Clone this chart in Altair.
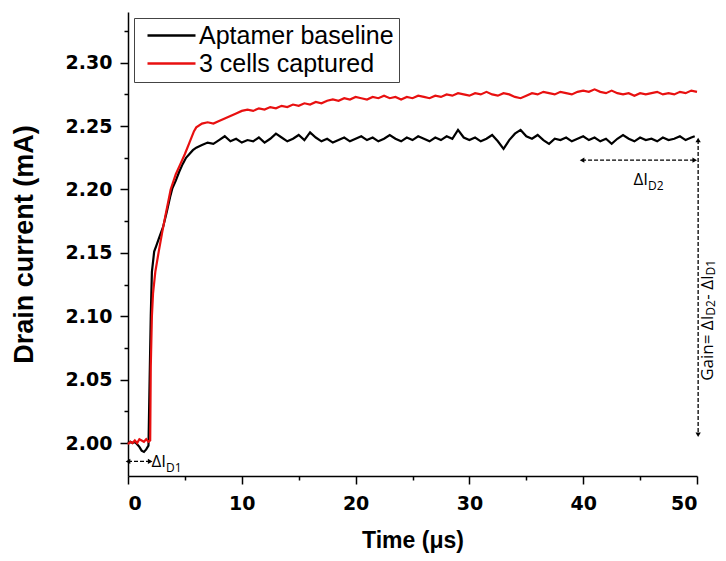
import altair as alt
import pandas as pd

# ---------------- data ----------------
series_names = ["Aptamer baseline", "3 cells captured"]
series_colors = ["#000000", "#e81010"]

# Aptamer baseline (black)
black_t = [0.0, 0.2, 0.4, 0.6, 0.8, 1.0, 1.2, 1.4, 1.6, 1.8, 1.9, 2.0, 2.1, 2.3, 2.5, 2.7, 2.9, 3.1,
           3.4, 3.7, 3.9, 4.2, 4.5, 4.8, 5.1, 5.4, 5.7, 6.0,
           6.5, 7.0, 7.5, 8.0, 8.5, 9.0, 9.5, 10.0, 10.5, 11.0, 11.5, 12.0, 12.5, 13.0, 13.5, 14.0,
           14.5, 15.0, 15.5, 16.0, 16.5, 17.0, 17.5, 18.0, 18.5, 19.0, 19.5, 20.0, 20.5, 21.0, 21.5,
           22.0, 22.5, 23.0, 23.5, 24.0, 24.5, 25.0, 25.5, 26.0, 26.5, 27.0, 27.5, 28.0, 28.5, 29.0,
           29.5, 30.0, 30.5, 31.0, 31.5, 32.0, 32.5, 33.0, 33.5, 34.0, 34.5, 35.0, 35.5, 36.0, 36.5,
           37.0, 37.5, 38.0, 38.5, 39.0, 39.5, 40.0, 40.5, 41.0, 41.5, 42.0, 42.5, 43.0, 43.5, 44.0,
           44.5, 45.0, 45.5, 46.0, 46.5, 47.0, 47.5, 48.0, 48.5, 49.0, 49.5, 49.8]
black_i = [2.000, 2.001, 2.000, 2.001, 1.999, 1.997, 1.994, 1.993, 1.995, 1.998, 2.050, 2.100, 2.135, 2.151,
           2.156, 2.161, 2.166, 2.171, 2.182, 2.194, 2.201, 2.207, 2.214, 2.220, 2.225, 2.228, 2.231, 2.233,
           2.235, 2.237, 2.236, 2.239, 2.242, 2.238, 2.240, 2.237, 2.239, 2.238, 2.241, 2.237, 2.240, 2.244,
           2.241, 2.238, 2.240, 2.243, 2.239, 2.245, 2.241, 2.238, 2.240, 2.237, 2.239, 2.241, 2.238, 2.240,
           2.242, 2.239, 2.241, 2.238, 2.240, 2.243, 2.240, 2.238, 2.241, 2.239, 2.242, 2.240, 2.238, 2.241,
           2.239, 2.242, 2.240, 2.247, 2.241, 2.239, 2.241, 2.238, 2.240, 2.243, 2.238, 2.232, 2.239, 2.244,
           2.247, 2.242, 2.240, 2.243, 2.239, 2.236, 2.240, 2.239, 2.241, 2.238, 2.240, 2.242, 2.239, 2.241,
           2.238, 2.240, 2.236, 2.240, 2.243, 2.240, 2.238, 2.241, 2.239, 2.240, 2.238, 2.241, 2.239, 2.240,
           2.242, 2.239, 2.241, 2.242]

# 3 cells captured (red)
red_t = [0.0, 0.2, 0.4, 0.6, 0.8, 1.0, 1.2, 1.4, 1.6, 1.8, 1.95, 2.0, 2.1, 2.2, 2.4, 2.7, 3.0, 3.3,
         3.75, 4.2, 4.6, 5.0, 5.4, 5.8, 6.0,
         6.5, 7.0, 7.5, 8.0, 8.5, 9.0, 9.5, 10.0, 10.5, 11.0, 11.5, 12.0, 12.5, 13.0, 13.5, 14.0,
         14.5, 15.0, 15.5, 16.0, 16.5, 17.0, 17.5, 18.0, 18.5, 19.0, 19.5, 20.0, 20.5, 21.0, 21.5,
         22.0, 22.5, 23.0, 23.5, 24.0, 24.5, 25.0, 25.5, 26.0, 26.5, 27.0, 27.5, 28.0, 28.5, 29.0,
         29.5, 30.0, 30.5, 31.0, 31.5, 32.0, 32.5, 33.0, 33.5, 34.0, 34.5, 35.0, 35.5, 36.0, 36.5,
         37.0, 37.5, 38.0, 38.5, 39.0, 39.5, 40.0, 40.5, 41.0, 41.5, 42.0, 42.5, 43.0, 43.5, 44.0,
         44.5, 45.0, 45.5, 46.0, 46.5, 47.0, 47.5, 48.0, 48.5, 49.0, 49.5, 50.0]
red_i = [1.999, 2.001, 2.000, 2.002, 2.000, 2.003, 2.002, 2.001, 2.003, 2.001, 2.002, 2.060, 2.100, 2.118,
         2.135, 2.151, 2.166, 2.180, 2.200, 2.212, 2.220, 2.228, 2.237, 2.246, 2.249,
         2.252, 2.253, 2.252, 2.254, 2.256, 2.258, 2.260, 2.262, 2.263, 2.262, 2.264, 2.263, 2.265, 2.264,
         2.266, 2.265, 2.267, 2.266, 2.268, 2.267, 2.269, 2.268, 2.270, 2.271, 2.270, 2.272, 2.271, 2.273,
         2.272, 2.271, 2.273, 2.272, 2.274, 2.272, 2.273, 2.271, 2.273, 2.272, 2.274, 2.273, 2.272, 2.274,
         2.273, 2.275, 2.274, 2.276, 2.275, 2.274, 2.276, 2.275, 2.277, 2.275, 2.274, 2.276, 2.275, 2.273,
         2.272, 2.274, 2.276, 2.275, 2.277, 2.276, 2.275, 2.277, 2.276, 2.275, 2.277, 2.278, 2.277, 2.279,
         2.277, 2.276, 2.278, 2.276, 2.275, 2.276, 2.274, 2.276, 2.275, 2.276, 2.277, 2.275, 2.276, 2.275,
         2.277, 2.276, 2.278, 2.277]

x_ticks = [0, 5, 10, 15, 20, 25, 30, 35, 40, 45, 50]
y_ticks = [2.0, 2.025, 2.05, 2.075, 2.1, 2.125, 2.15, 2.175, 2.2, 2.225, 2.25, 2.275, 2.3, 2.325]
x_domain = [0, 50]
y_domain = [1.974, 2.34]

# annotation arrows (data units)
harrow_x1 = [0.0, 39.9]
harrow_x2 = [1.95, 49.8]
harrow_y = [1.9855, 2.2231]
varrow_x = [50.1]
varrow_y1 = [2.2390]
varrow_y2 = [2.0065]

# annotation labels
hlab_main = ["ΔI", "ΔI"]
hlab_sub = ["D1", "D2"]
hlab_x = [3.35, 45.7]
hlab_main_y = [1.9808, 2.2032]
hlab_sub_y = [1.9772, 2.1998]

# rotated gain label, pieces placed by where each starts (reading bottom to top)
vlab_main = ["Gain= ΔI", "- ΔI"]
vlab_main_y = [2.0491, 2.1131]
vlab_sub = ["D2", "D1"]
vlab_sub_y = [2.1005, 2.1321]
vlab_x = [51.43, 51.43]

# ---------------- build tables ----------------
lines_df = pd.DataFrame({
    "t": black_t + red_t,
    "I": black_i + red_i,
    "series": [series_names[0]] * len(black_t) + [series_names[1]] * len(red_t),
})
harrow_df = pd.DataFrame({"x1": harrow_x1, "x2": harrow_x2, "y": harrow_y})
varrow_df = pd.DataFrame({"x": varrow_x, "y1": varrow_y1, "y2": varrow_y2})
left_heads = pd.DataFrame({"x": harrow_x1, "y": harrow_y})
right_heads = pd.DataFrame({"x": harrow_x2, "y": harrow_y})
up_heads = pd.DataFrame({"x": varrow_x, "y": varrow_y1})
down_heads = pd.DataFrame({"x": varrow_x, "y": varrow_y2})
hmain_df = pd.DataFrame({"x": hlab_x, "y": hlab_main_y, "text": hlab_main})
hsub_df = pd.DataFrame({"x": hlab_x, "y": hlab_sub_y, "text": hlab_sub})
vmain_df = pd.DataFrame({"x": vlab_x, "y": vlab_main_y, "text": vlab_main})
vsub_df = pd.DataFrame({"x": vlab_x, "y": vlab_sub_y, "text": vlab_sub})

TITLE_FONT = "Liberation Sans"
TICK_FONT = "DejaVu Sans"
ANN_FONT = "Open Sans"

xscale = alt.Scale(domain=x_domain, nice=False, zero=False)
yscale = alt.Scale(domain=y_domain, nice=False, zero=False)

X_MAJOR = "datum.value % 10 === 0"
Y_MAJOR = "abs(datum.value*20 - round(datum.value*20)) < 0.001"

x_axis = alt.Axis(
    values=x_ticks,
    labelExpr=X_MAJOR + " ? datum.label : ''",
    tickSize={"condition": {"test": X_MAJOR, "value": 8}, "value": 4},
    labelPadding=10,
    titlePadding=16,
    title="Time (μs)",
    titleFontSize=23,
    grid=False,
)
y_axis = alt.Axis(
    values=y_ticks,
    labelExpr=Y_MAJOR + " ? format(datum.value, '.2f') : ''",
    tickSize={"condition": {"test": Y_MAJOR, "value": 8}, "value": 4},
    labelPadding=8,
    titlePadding=27,
    title="Drain current (mA)",
    titleFontSize=27,
    grid=False,
)


def xq(f):
    return alt.X(f, scale=xscale, axis=x_axis)


def yq(f):
    return alt.Y(f, scale=yscale, axis=y_axis)


lines = alt.Chart(lines_df).mark_line(strokeWidth=2.2, interpolate="linear").encode(
    x=xq("t:Q"),
    y=yq("I:Q"),
    color=alt.Color(
        "series:N",
        scale=alt.Scale(domain=series_names, range=series_colors),
        legend=alt.Legend(
            title=None, orient="top-left", offset=6, padding=5,
            strokeColor="#444444", fillColor="white",
            labelFont=TITLE_FONT, labelFontSize=25, labelColor="black", labelLimit=400,
            symbolType="M-1,0H11", symbolSize=64, symbolStrokeWidth=2.5,
            labelOffset=35, rowPadding=2,
        ),
    ),
    order=alt.Order("t:Q"),
)

hrules = alt.Chart(harrow_df).mark_rule(color="black", strokeWidth=1.3, strokeDash=[4, 2]).encode(
    x=xq("x1:Q"), x2="x2:Q", y=yq("y:Q"))
vrules = alt.Chart(varrow_df).mark_rule(color="black", strokeWidth=1.3, strokeDash=[4, 2]).encode(
    x=xq("x:Q"), y=yq("y1:Q"), y2="y2:Q")


def heads(df, shape):
    return alt.Chart(df).mark_point(shape=shape, filled=True, color="black", size=28, opacity=1).encode(
        x=xq("x:Q"), y=yq("y:Q"))


hmain = alt.Chart(hmain_df).mark_text(font=ANN_FONT, fontSize=17, align="right", baseline="alphabetic",
                                      color="black").encode(x=xq("x:Q"), y=yq("y:Q"), text="text:N")
hsub = alt.Chart(hsub_df).mark_text(font=ANN_FONT, fontSize=12, align="left", baseline="alphabetic",
                                    color="black").encode(x=xq("x:Q"), y=yq("y:Q"), text="text:N")
vmain = alt.Chart(vmain_df).mark_text(font=ANN_FONT, fontSize=17, align="left", baseline="alphabetic",
                                      angle=270, color="black").encode(x=xq("x:Q"), y=yq("y:Q"), text="text:N")
vsub = alt.Chart(vsub_df).mark_text(font=ANN_FONT, fontSize=12, align="left", baseline="alphabetic",
                                    angle=270, dy=1.8, color="black").encode(x=xq("x:Q"), y=yq("y:Q"), text="text:N")

chart = alt.layer(
    lines, hrules, vrules,
    heads(left_heads, "triangle-left"), heads(right_heads, "triangle-right"),
    heads(up_heads, "triangle-up"), heads(down_heads, "triangle-down"),
    hmain, hsub, vmain, vsub,
).properties(
    width=569, height=464,
    autosize=alt.AutoSizeParams(type="none"),
    padding={"left": 120, "top": 4, "right": 21, "bottom": 77},
).configure_view(stroke=None).configure_axis(
    domainColor="black", domainWidth=1.5, tickColor="black", tickWidth=1.5,
    labelFont=TICK_FONT, labelFontSize=19, labelFontWeight="bold", labelColor="black",
    titleFont=TITLE_FONT, titleFontWeight="bold", titleColor="black",
)

chart.save("out.html", embed_options={"renderer": "svg", "actions": False})
